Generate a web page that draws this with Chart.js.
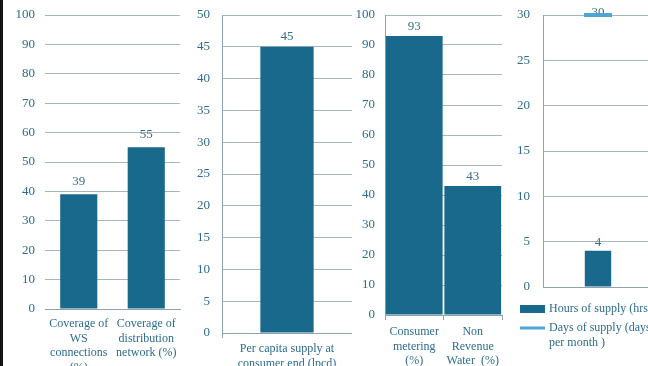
<!DOCTYPE html>
<html>
<head>
<meta charset="utf-8">
<script src="https://cdn.jsdelivr.net/npm/chart.js@4"></script>
<style>
  html, body { margin: 0; padding: 0; background: #fff; }
  body { width: 648px; height: 366px; overflow: hidden; position: relative; }
  canvas { position: absolute; top: 0; }
  #edge { position: absolute; left: 0; top: 0; width: 3px; height: 366px; background: #141414; z-index: 5; }
</style>
</head>
<body>
<div id="edge"></div>
<canvas id="c1" width="190" height="366" style="left:0px"></canvas>
<canvas id="c2" width="162" height="366" style="left:190px"></canvas>
<canvas id="c3" width="160" height="366" style="left:345px"></canvas>
<canvas id="c4" width="150" height="366" style="left:505px"></canvas>
<script>
// panel 1 - coverage
const coverageLabels = [['Coverage of', 'WS', 'connections', '(%)'], ['Coverage of', 'distribution', 'network (%)']];
const coverageValues = [39, 55];
// panel 2 - per capita supply
const supplyLabels = [['Per capita supply at', 'consumer end (lpcd)']];
const supplyValues = [45];
// panel 3 - metering / NRW
const meteringLabels = [['Consumer', 'metering', '(%)'], ['Non', 'Revenue', 'Water  (%)']];
const meteringValues = [93, 43];
// panel 4 - hours / days
const supplyTimeLabels = [''];
const hoursValues = [4];
const daysValues = [30];
const seriesNames = ['Hours of supply (hrs)', 'Days of supply (days per month )'];
const legendLines = [['Hours of supply (hrs)'], ['Days of supply (days', 'per month )']];

const BAR = '#18698b';
const LIGHT = '#4ea5d6';
const TEXT = '#2d6d8c';
const GRID = '#a5b7c4';
const AXIS = '#8ea2b0';
const FONT = "'Liberation Serif', 'Times New Roman', serif";

// value labels above bars / points
const valueLabels = {
    id: 'valueLabels',
    beforeDatasetsDraw(chart) {
        const ctx = chart.ctx;
        ctx.save();
        ctx.font = `13px ${FONT}`;
        ctx.fillStyle = '#3a6f8a';
        ctx.textAlign = 'center';
        ctx.textBaseline = 'alphabetic';
        chart.data.datasets.forEach((ds, i) => {
            const meta = chart.getDatasetMeta(i);
            const off = ds.labelOffset || 6;
            meta.data.forEach((el, j) => {
                ctx.fillText(String(ds.data[j]), el.x, el.y - off);
            });
        });
        ctx.restore();
    }
};

const sideLegend = {
    id: 'sideLegend',
    afterDraw(chart) {
        const ctx = chart.ctx;
        const ds = chart.data.datasets;
        ctx.save();
        ctx.font = `12px ${FONT}`;
        ctx.textBaseline = 'middle';
        // bar entry
        ctx.fillStyle = ds[0].backgroundColor;
        ctx.fillRect(15, 305, 25, 8);
        ctx.fillStyle = TEXT;
        ctx.fillText(legendLines[0][0], 44, 309);
        // line entry
        ctx.strokeStyle = ds[1].borderColor;
        ctx.lineWidth = 3;
        ctx.beginPath();
        ctx.moveTo(15, 328);
        ctx.lineTo(40, 328);
        ctx.stroke();
        legendLines[1].forEach((t, k) => ctx.fillText(t, 44, 328 + k * 15));
        ctx.restore();
    }
};

function makeOptions(o) {
    return {
        responsive: false,
        animation: false,
        devicePixelRatio: 1,
        layout: { autoPadding: false, padding: { top: 15, right: o.right, left: 0, bottom: 0 } },
        plugins: { legend: { display: false }, tooltip: { enabled: false } },
        scales: {
            x: {
                grid: { drawOnChartArea: false, drawTicks: true, tickLength: o.xTicks ? 5 : 6,
                        color: AXIS, tickColor: o.xTicks ? AXIS : 'rgba(0,0,0,0)' },
                border: { display: true, color: AXIS },
                ticks: {
                    color: TEXT, font: { family: FONT, size: 12, lineHeight: 1.2 },
                    padding: o.xPad, maxRotation: 0, autoSkip: false
                },
                afterFit(scale) { scale.height = o.xHeight; }
            },
            y: {
                min: 0, max: o.yMax,
                grid: { color: GRID, drawTicks: true, tickLength: o.yPad, tickColor: 'rgba(0,0,0,0)' },
                border: { display: o.yBorder, color: AXIS },
                ticks: { stepSize: o.yStep, color: TEXT, font: { family: FONT, size: 13 }, padding: 0 },
                afterFit(scale) { scale.width = o.yWidth; }
            }
        }
    };
}

new Chart(document.getElementById('c1'), {
    type: 'bar',
    data: {
        labels: coverageLabels,
        datasets: [{ data: coverageValues, backgroundColor: BAR, barPercentage: 0.55, categoryPercentage: 1, labelOffset: 9 }]
    },
    options: makeOptions({ right: 10, xTicks: false, xPad: 2, xHeight: 57, yMax: 100, yStep: 10, yBorder: false, yPad: 10, yWidth: 45 }),
    plugins: [valueLabels]
});

new Chart(document.getElementById('c2'), {
    type: 'bar',
    data: {
        labels: supplyLabels,
        datasets: [{ data: supplyValues, backgroundColor: BAR, barPercentage: 0.41, categoryPercentage: 1, labelOffset: 7 }]
    },
    options: makeOptions({ right: 0, xTicks: true, xPad: 4, xHeight: 33, yMax: 50, yStep: 5, yBorder: true, yPad: 12, yWidth: 32 }),
    plugins: [valueLabels]
});

new Chart(document.getElementById('c3'), {
    type: 'bar',
    data: {
        labels: meteringLabels,
        datasets: [{ data: meteringValues, backgroundColor: BAR, barPercentage: 0.97, categoryPercentage: 1, labelOffset: 6 }]
    },
    options: makeOptions({ right: 3, xTicks: true, xPad: 5, xHeight: 51, yMax: 100, yStep: 10, yBorder: true, yPad: 10, yWidth: 40 }),
    plugins: [valueLabels]
});

new Chart(document.getElementById('c4'), {
    type: 'bar',
    data: {
        labels: supplyTimeLabels,
        datasets: [
            { label: seriesNames[0], data: hoursValues, backgroundColor: BAR, barPercentage: 0.24, categoryPercentage: 1, labelOffset: 5, order: 2 },
            { type: 'line', label: seriesNames[1], data: daysValues, borderColor: LIGHT, backgroundColor: LIGHT, clip: false,
              pointStyle: 'line', pointRadius: 14, pointBorderWidth: 4, pointBorderColor: LIGHT, labelOffset: -1, order: 1 }
        ]
    },
    options: makeOptions({ right: 2, xTicks: false, xPad: 2, xHeight: 79, yMax: 30, yStep: 5, yBorder: true, yPad: 13, yWidth: 38 }),
    plugins: [valueLabels, sideLegend]
});
</script>
</body>
</html>
